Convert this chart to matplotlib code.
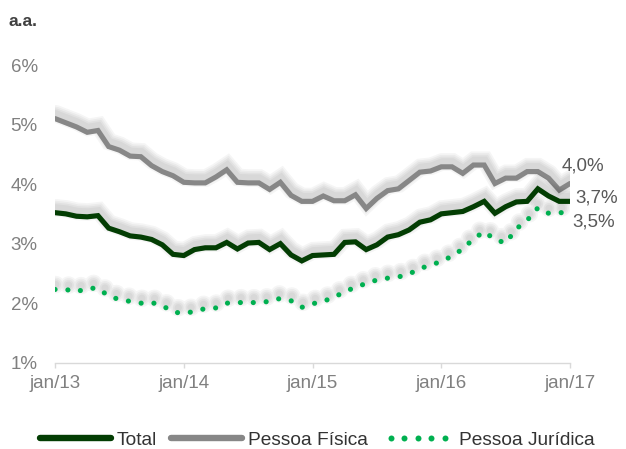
import matplotlib
matplotlib.use("Agg")
import matplotlib.pyplot as plt
import matplotlib.patheffects as pe
from matplotlib.lines import Line2D
from matplotlib.legend_handler import HandlerLine2D
import numpy as np

# Monthly series, jan/13 .. jan/17 (% a.a.)
total = [3.52, 3.50, 3.46, 3.45, 3.47, 3.26, 3.20, 3.13, 3.11, 3.07,
         2.98, 2.82, 2.80, 2.90, 2.93, 2.93, 3.02, 2.91, 3.01, 3.02,
         2.90, 3.00, 2.81, 2.71, 2.80, 2.81, 2.82, 3.02, 3.03, 2.90,
         2.98, 3.11, 3.15, 3.23, 3.36, 3.40, 3.50, 3.52, 3.54, 3.62,
         3.71, 3.51, 3.62, 3.70, 3.71, 3.92, 3.80, 3.71, 3.71]
pessoa_fisica = [5.10, 5.03, 4.96, 4.87, 4.90, 4.63, 4.57, 4.47, 4.46, 4.31,
                 4.21, 4.14, 4.03, 4.02, 4.02, 4.12, 4.24, 4.03, 4.02, 4.02,
                 3.91, 4.03, 3.81, 3.71, 3.71, 3.80, 3.72, 3.72, 3.82, 3.59,
                 3.76, 3.89, 3.92, 4.06, 4.20, 4.22, 4.29, 4.29, 4.18, 4.32,
                 4.32, 4.01, 4.10, 4.10, 4.21, 4.21, 4.10, 3.90, 4.01]
pessoa_juridica = [2.23, 2.23, 2.19, 2.25, 2.25, 2.12, 2.06, 2.03, 2.00, 2.01,
                   1.96, 1.85, 1.83, 1.86, 1.91, 1.92, 2.00, 2.01, 2.01, 2.01,
                   2.03, 2.08, 2.04, 1.93, 1.99, 2.03, 2.10, 2.19, 2.27, 2.33,
                   2.39, 2.42, 2.44, 2.49, 2.58, 2.64, 2.70, 2.79, 2.91, 3.08,
                   3.20, 3.07, 3.01, 3.25, 3.39, 3.60, 3.51, 3.52, 3.52]

tick_labels = ["jan/13", "jan/14", "jan/15", "jan/16", "jan/17"]
y_ticks = [1, 2, 3, 4, 5, 6]
end_labels = ["4,0%", "3,7%", "3,5%"]

c_total = "#033d03"
c_pf = "#878787"
c_pj = "#00b050"
c_text = "#808080"

plt.rcParams["font.family"] = ["Liberation Sans", "DejaVu Sans"]

months = np.arange(len(total))

fig = plt.figure(figsize=(6.26, 4.49), dpi=100)
ax = fig.add_axes([0.0879, 0.1922, 0.8227, 0.663])


# soft shadow above each line (stacked translucent strokes)
def shadow(lw):
    effects = []
    for extra in (9, 6.5, 4, 1.5):
        effects.append(pe.SimpleLineShadow(offset=(0.5, 3.5), shadow_color="k",
                                           alpha=0.04, linewidth=lw + extra))
    effects.append(pe.Normal())
    return effects


lw = 3.7
ax.plot(months, pessoa_fisica, color=c_pf, lw=lw, solid_joinstyle="miter",
        solid_capstyle="round", path_effects=shadow(lw), zorder=3)
ax.plot(months, total, color=c_total, lw=lw, solid_joinstyle="miter",
        solid_capstyle="round", path_effects=shadow(lw), zorder=4)
ax.plot(months, pessoa_juridica, color=c_pj, lw=lw, linestyle=(0, (0.01, 2.5)),
        dash_capstyle="round", path_effects=shadow(lw), zorder=2)

# end labels
ax.annotate(end_labels[0], xy=(months[-1], pessoa_fisica[-1]), xytext=(-6, 12.5),
            textcoords="offset points", ha="left", va="center", fontsize=13.5, color="#595959")
ax.annotate(end_labels[1], xy=(months[-1], total[-1]), xytext=(4, 2.5),
            textcoords="offset points", ha="left", va="center", fontsize=13.5, color="#595959")
ax.annotate(end_labels[2], xy=(months[-1], pessoa_juridica[-1]), xytext=(1.5, -6.5),
            textcoords="offset points", ha="left", va="center", fontsize=13.5, color="#595959")

ax.set_xlim(0, 48)
ax.set_ylim(1, 6)
ax.set_xticks(months[::12])
ax.set_xticklabels(tick_labels)
ax.set_yticks(y_ticks)
ax.set_yticklabels([f"{v}%" for v in y_ticks])

for s in ["top", "right", "left"]:
    ax.spines[s].set_visible(False)
ax.spines["bottom"].set_color("#d9d9d9")
ax.spines["bottom"].set_linewidth(1.0)
ax.tick_params(axis="x", direction="out", length=3.5, width=1.0, color="#d9d9d9",
               labelsize=13.5, labelcolor=c_text, pad=5)
ax.tick_params(axis="y", length=0, labelsize=13.5, labelcolor=c_text, pad=12.5)

fig.text(0.014, 0.953, "a.a.", fontsize=12.5, fontweight="bold", color="#404040",
         ha="left", va="center")

# legend: PJ handle drawn as five dots with a gap before its text
pj_handle = Line2D([], [], color=c_pj, linestyle="none", marker="o",
                   markersize=4.3, markeredgewidth=0)
handles = [
    Line2D([], [], color=c_total, lw=4.6, solid_capstyle="round"),
    Line2D([], [], color=c_pf, lw=4.6, solid_capstyle="round"),
    pj_handle,
]
leg = fig.legend(handles, ["Total", "Pessoa Física", "Pessoa Jurídica"],
                 loc="center", bbox_to_anchor=(0.507, 0.02), ncol=3, frameon=False,
                 handlelength=3.7, handletextpad=0.3, columnspacing=0.75,
                 prop={"size": 13.8},
                 handler_map={pj_handle: HandlerLine2D(numpoints=5, marker_pad=0.45)})
for t in leg.get_texts():
    t.set_color("#333333")

fig.savefig("out.png", dpi=100)
